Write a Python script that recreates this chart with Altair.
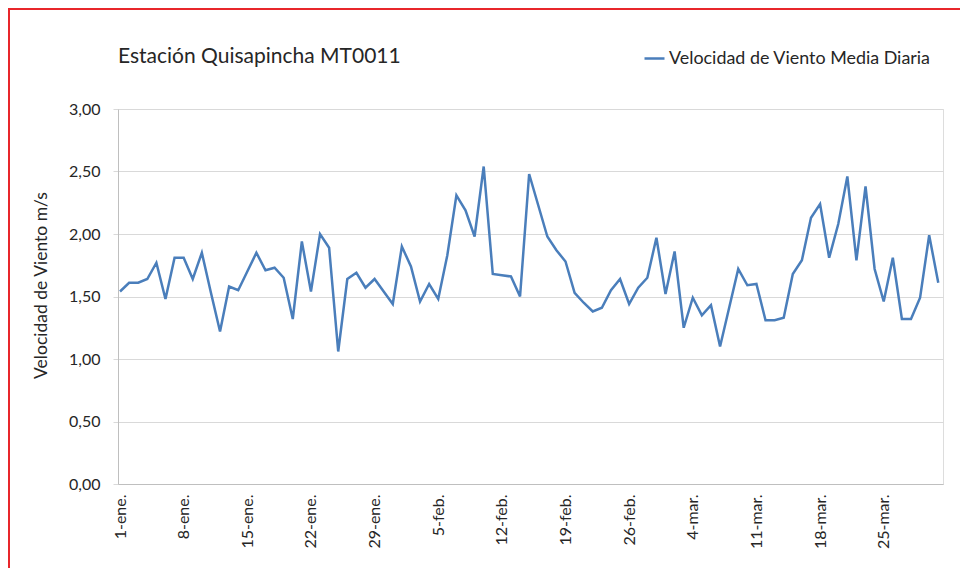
import altair as alt
import pandas as pd

TITLE = "Estación Quisapincha MT0011"
SERIES = "Velocidad de Viento Media Diaria"
Y_TITLE = "Velocidad de Viento m/s"
START_DATE = "2012-01-01"

# Daily mean wind speed (m/s), 1-ene .. 31-mar
VALUES = [
    1.54, 1.61, 1.61, 1.64, 1.77, 1.48, 1.81, 1.81, 1.64, 1.85,
    1.53, 1.22, 1.58, 1.55, 1.70, 1.85, 1.71, 1.73, 1.65, 1.32,
    1.94, 1.54, 2.00, 1.89, 1.06, 1.64, 1.69, 1.57, 1.64, 1.54,
    1.44, 1.90, 1.74, 1.46, 1.60, 1.48, 1.83, 2.31, 2.19, 1.98,
    2.54, 1.68, 1.67, 1.66, 1.50, 2.48, 2.23, 1.98, 1.87, 1.78,
    1.53, 1.45, 1.38, 1.41, 1.55, 1.64, 1.44, 1.57, 1.65, 1.97,
    1.52, 1.86, 1.25, 1.49, 1.35, 1.43, 1.10, 1.41, 1.72, 1.59,
    1.60, 1.31, 1.31, 1.33, 1.68, 1.79, 2.13, 2.24, 1.81, 2.08,
    2.46, 1.79, 2.38, 1.72, 1.46, 1.81, 1.32, 1.32, 1.49, 1.99,
    1.61,
]

MONTH_ABBR = ["ene", "feb", "mar", "abr", "may", "jun",
              "jul", "ago", "sep", "oct", "nov", "dic"]
TICK_DATES = [(1, 1), (1, 8), (1, 15), (1, 22), (1, 29), (2, 5), (2, 12),
              (2, 19), (2, 26), (3, 4), (3, 11), (3, 18), (3, 25)]
Y_TICKS = [0, 0.5, 1.0, 1.5, 2.0, 2.5, 3.0]

dates = pd.date_range(START_DATE, periods=len(VALUES), freq="D")
df = pd.DataFrame({
    "fecha": dates.strftime("%Y-%m-%dT00:00:00"),
    "valor": VALUES,
    "serie": SERIES,
})

FONT = "Lato"
TXT = "#262626"
GRID = "#d9d9d9"
AXIS = "#bfbfbf"

months_js = "[" + ",".join(f"'{m}'" for m in MONTH_ABBR) + "]"
x_label_expr = f"date(datum.value) + '-' + {months_js}[month(datum.value)] + '.'"
y_label_expr = "replace(format(datum.value, '.2f'), '.', ',')"

tick_vals = [alt.DateTime(year=2012, month=m, date=d) for m, d in TICK_DATES]
x_domain = [alt.DateTime(year=2011, month=12, date=31, hours=18, minutes=40),
            alt.DateTime(year=2012, month=3, date=31, hours=12, minutes=30)]

line = alt.Chart(df).mark_line(strokeWidth=2.5).encode(
    x=alt.X(
        "fecha:T",
        scale=alt.Scale(domain=x_domain),
        axis=alt.Axis(
            values=tick_vals, labelExpr=x_label_expr, title=None,
            labelAngle=270, labelAlign="right", labelBaseline="middle",
            grid=False, ticks=False, labelPadding=10,
            labelFontSize=16, labelColor=TXT, labelFont=FONT,
            domainColor=AXIS, labelOverlap=False,
        ),
    ),
    y=alt.Y(
        "valor:Q",
        scale=alt.Scale(domain=[0, 3], nice=False),
        axis=alt.Axis(
            values=Y_TICKS, labelExpr=y_label_expr, title=Y_TITLE,
            titleAngle=270, titleX=-77, titleY=176, titleAlign="center",
            titleBaseline="middle", titleFontSize=17.5, titleFontWeight="normal",
            titleColor=TXT, titleFont=FONT,
            labelFontSize=16, labelColor=TXT, labelFont=FONT, labelPadding=13,
            tickSize=5, tickColor=GRID, gridColor=GRID, domainColor=AXIS,
        ),
    ),
    color=alt.Color(
        "serie:N",
        scale=alt.Scale(range=["#4A7EBB"]),
        legend=alt.Legend(
            title=None, orient="none", legendX=525, legendY=-62,
            symbolType="stroke", symbolSize=400, symbolStrokeWidth=2.5,
            labelFontSize=17.9, labelColor=TXT, labelFont=FONT, padding=0,
            labelOffset=3, labelLimit=0,
        ),
    ),
)

one_row = pd.DataFrame({"k": [0]})
title_mark = alt.Chart(one_row).mark_text(
    text=TITLE, align="left", baseline="middle", fontSize=21,
    font=FONT, color=TXT,
).encode(x=alt.value(0), y=alt.value(-52))

frame_v = alt.Chart(one_row).mark_rule(color="#e8262b", strokeWidth=2).encode(
    x=alt.value(-109), y=alt.value(-101), y2=alt.value(459)
)
frame_h = alt.Chart(one_row).mark_rule(color="#e8262b", strokeWidth=2).encode(
    x=alt.value(-110), x2=alt.value(842), y=alt.value(-100)
)

chart = alt.layer(line, title_mark, frame_v, frame_h).properties(
    width=825,
    height=375,
    autosize=alt.AutoSizeParams(type="none"),
    padding={"left": 110, "top": 101, "right": 17, "bottom": 84},
).configure_view(stroke=None).configure(background="white")

chart.save("out.html", embed_options={"renderer": "svg", "actions": False})
